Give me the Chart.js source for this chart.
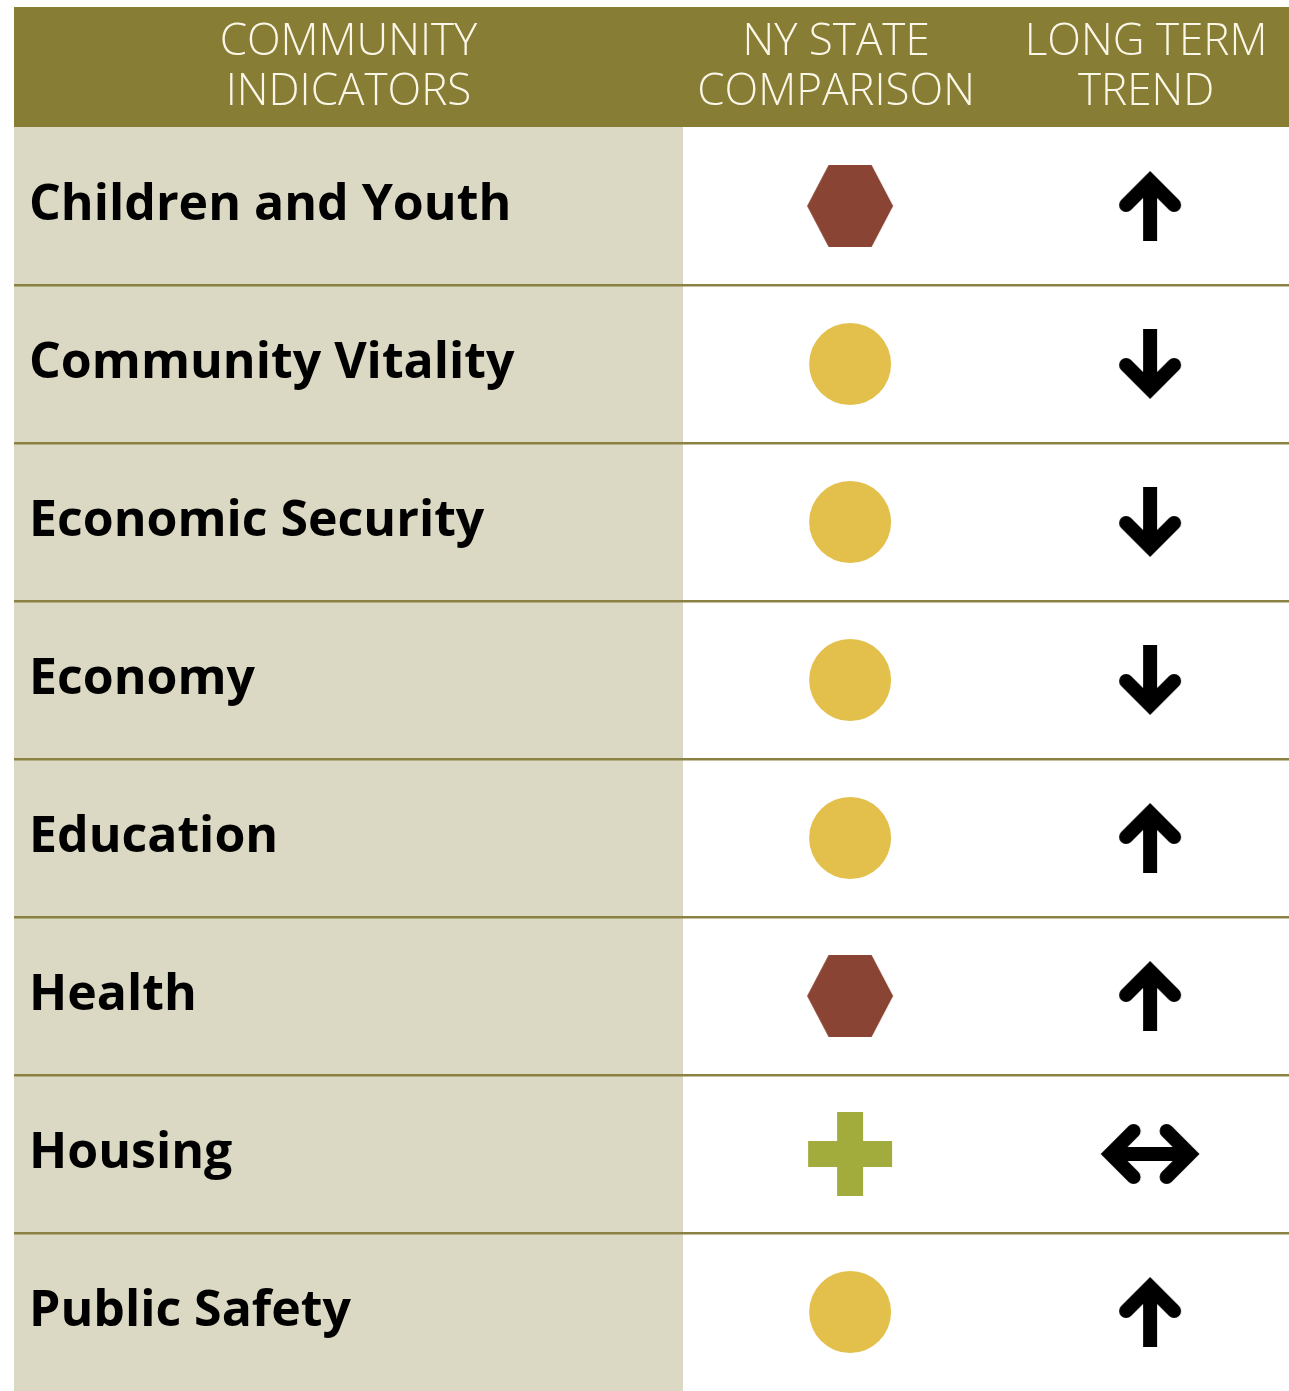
<!DOCTYPE html>
<html>
<head>
<meta charset="utf-8">
<script src="https://cdn.jsdelivr.net/npm/chart.js@4.4.1/dist/chart.umd.min.js"></script>
<style>
html,body{margin:0;padding:0;background:#ffffff;overflow:hidden;}
#wrap{position:relative;width:1289px;height:1391px;}
</style>
</head>
<body>
<div id="wrap"><canvas id="c" width="1289" height="1391"></canvas></div>
<script>
// ---- data ----
const headerLabels = [["COMMUNITY", "INDICATORS"], ["NY STATE", "COMPARISON"], ["LONG TERM", "TREND"]];
const indicators = ["Children and Youth", "Community Vitality", "Economic Security", "Economy", "Education", "Health", "Housing", "Public Safety"];
const comparison = ["worse", "same", "same", "same", "same", "worse", "better", "same"];
const trend = ["up", "down", "down", "down", "up", "up", "flat", "up"];

// ---- styles ----
const OLIVE = "#877d34";
const LINE = "#8a8142";
const BEIGE = "#dbd8c3";
const HEX = "#8a4433";
const GOLD = "#e2c04b";
const GREEN = "#a2ac3d";

function mk(w, h, fn) {
  const c = document.createElement("canvas");
  c.width = w; c.height = h;
  fn(c.getContext("2d"), w, h);
  return c;
}
const hexImg = mk(90, 86, (g, w, h) => {
  const cx = w / 2, cy = h / 2, r = 43, hh = 41;
  g.fillStyle = HEX;
  g.beginPath();
  g.moveTo(cx - r, cy); g.lineTo(cx - r / 2, cy - hh); g.lineTo(cx + r / 2, cy - hh);
  g.lineTo(cx + r, cy); g.lineTo(cx + r / 2, cy + hh); g.lineTo(cx - r / 2, cy + hh);
  g.closePath(); g.fill();
});
const plusImg = mk(88, 88, (g, w, h) => {
  const cx = w / 2, cy = h / 2, t = 26, L = 42;
  g.fillStyle = GREEN;
  g.fillRect(cx - t / 2, cy - L, t, 2 * L);
  g.fillRect(cx - L, cy - t / 2, 2 * L, t);
});
function vArrow(dir) {
  return mk(80, 84, (g, w, h) => {
    const cx = w / 2, cy = h / 2, lw = 14;
    g.strokeStyle = "#000"; g.lineWidth = lw;
    const s = dir; // 1 = down, -1 = up
    const vy = cy + s * 25;
    g.lineCap = "butt";
    g.beginPath(); g.moveTo(cx, cy - s * 35); g.lineTo(cx, vy); g.stroke();
    g.lineCap = "round"; g.lineJoin = "miter"; g.miterLimit = 4;
    g.beginPath();
    g.moveTo(cx - 24, vy - s * 24); g.lineTo(cx, vy); g.lineTo(cx + 24, vy - s * 24);
    g.stroke();
  });
}
const upImg = vArrow(-1);
const downImg = vArrow(1);
const flatImg = mk(112, 74, (g, w, h) => {
  const cx = w / 2, cy = h / 2, lw = 14;
  g.strokeStyle = "#000"; g.lineWidth = lw;
  const vx = 39.5;
  g.lineCap = "butt";
  g.beginPath(); g.moveTo(cx - vx, cy); g.lineTo(cx + vx, cy); g.stroke();
  g.lineCap = "round"; g.lineJoin = "miter"; g.miterLimit = 4;
  [-1, 1].forEach(s => {
    g.beginPath();
    g.moveTo(cx + s * (vx - 23), cy - 23); g.lineTo(cx + s * vx, cy); g.lineTo(cx + s * (vx - 23), cy + 23);
    g.stroke();
  });
});
const compStyle = { worse: hexImg, same: "circle", better: plusImg };
const trendStyle = { up: upImg, down: downImg, flat: flatImg };

const COL_COMP = 1, COL_TREND = 2, DIVIDER = 0.443;

const bgPlugin = {
  id: "bg",
  beforeDraw(chart) {
    const { ctx, chartArea: a, scales: { x } } = chart;
    ctx.save();
    ctx.fillStyle = BEIGE;
    ctx.fillRect(a.left, a.top, x.getPixelForValue(DIVIDER) - a.left, a.bottom - a.top);
    ctx.restore();
  },
  afterDraw(chart) {
    const { ctx, chartArea: a, scales: { x } } = chart;
    ctx.save();
    ctx.fillStyle = OLIVE;
    ctx.fillRect(a.left, 7, a.right - a.left, a.top - 7);
    ctx.fillStyle = "#fbf7e8";
    ctx.font = "300 44px 'Open Sans'";
    ctx.textAlign = "center";
    ctx.textBaseline = "middle";
    const cxs = [(a.left + x.getPixelForValue(DIVIDER)) / 2, x.getPixelForValue(COL_COMP) - 14, x.getPixelForValue(COL_TREND) - 4];
    headerLabels.forEach((lines, i) => {
      lines.forEach((t, j) => ctx.fillText(t, cxs[i], 42 + j * 50));
    });
    ctx.restore();
  }
};

new Chart(document.getElementById("c"), {
  type: "scatter",
  data: {
    datasets: [
      {
        label: "NY State Comparison",
        data: comparison.map((v, i) => ({ x: COL_COMP, y: i + 0.5 })),
        pointStyle: comparison.map(v => compStyle[v]),
        pointRadius: 41,
        pointBackgroundColor: GOLD,
        pointBorderWidth: 0,
        pointHoverRadius: 41
      },
      {
        label: "Long Term Trend",
        data: trend.map((v, i) => ({ x: COL_TREND, y: i + 0.5 })),
        pointStyle: trend.map(v => trendStyle[v]),
        pointRadius: 30,
        pointBorderWidth: 0
      }
    ]
  },
  options: {
    responsive: false,
    animation: false,
    events: [],
    layout: { autoPadding: false, padding: { top: 127, left: 0, right: 0, bottom: 0 } },
    plugins: { legend: { display: false }, tooltip: { enabled: false }, title: { display: false } },
    scales: {
      x: { type: "linear", display: false, min: -1.787, max: 2.463 },
      y: {
        type: "linear", position: "left", reverse: true, min: 0, max: indicators.length,
        afterBuildTicks: s => { s.ticks = indicators.map((_, i) => ({ value: i + 0.5 })); },
        afterFit: s => { s.width = 14; s.paddingTop = 0; s.paddingBottom = 0; },
        border: { display: false },
        grid: {
          offset: true, drawTicks: false, lineWidth: 2.5,
          color: c => (c.index >= 1 && c.index < indicators.length) ? LINE : "rgba(0,0,0,0)"
        },
        ticks: {
          mirror: true, padding: 15, color: "#000",
          font: { family: "'Open Sans'", weight: "bold", size: 50 },
          autoSkip: false,
          callback: (v, i) => indicators[i]
        }
      }
    }
  },
  plugins: [bgPlugin]
});
</script>
</body>
</html>
